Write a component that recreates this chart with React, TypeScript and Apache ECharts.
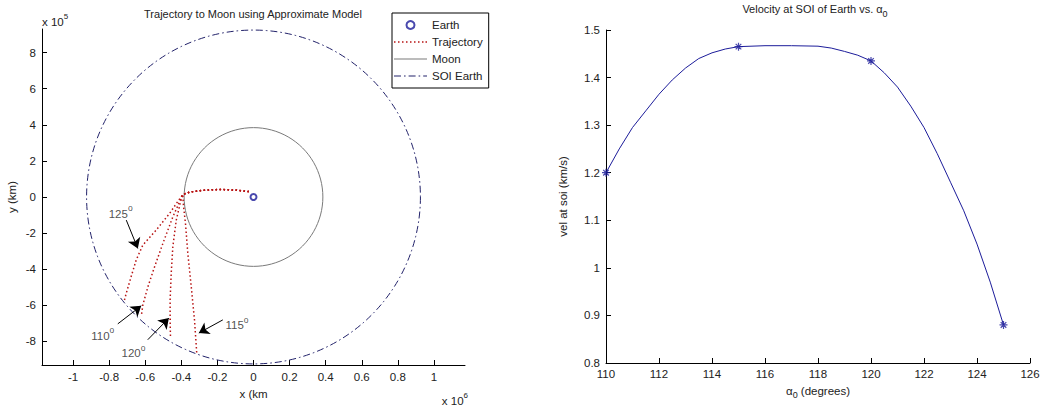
import React, { useEffect, useRef } from 'react';
import * as echarts from 'echarts';

const FONT = '"Liberation Sans", Arial, Helvetica, sans-serif';
const TXT = '#222222';

// ---------- Left chart data ----------
const xTicksLeft = [-1e6, -8e5, -6e5, -4e5, -2e5, 0, 2e5, 4e5, 6e5, 8e5, 1e6];
const yTicksLeft = [-8e5, -6e5, -4e5, -2e5, 0, 2e5, 4e5, 6e5, 8e5];
const earthPos = [[0, 0]];
const moonRadius = [[384400, 0]];
const soiRadius = [[925000, 0]];
const trajStart = [
  [-25000, 30000], [-96000, 38000], [-188000, 42000], [-281000, 37000], [-355000, 27000], [-392000, 14000],
];
const traj125 = [
  [-430000, -40000], [-465000, -91000], [-539000, -183000], [-613000, -266000], [-650000, -349000],
  [-678000, -441000], [-705000, -533000], [-715000, -571000],
];
const traj110 = [
  [-420000, -50000], [-447000, -110000], [-502000, -257000], [-548000, -386000], [-585000, -497000],
  [-613000, -598000], [-622000, -662000],
];
const traj120 = [
  [-405000, -30000], [-428000, -128000], [-447000, -276000], [-456000, -423000], [-462000, -570000],
  [-462000, -681000], [-460000, -782000],
];
const traj115 = [
  [-388000, -50000], [-377000, -146000], [-364000, -312000], [-345000, -497000], [-327000, -681000],
  [-317000, -828000], [-314000, -874000],
];
const angleLabels = ['125', '110', '120', '115'];
const angleLabelPos = [[-736000, -82000], [-835000, -758000], [-665000, -856000], [-91000, -699000]];
const arrowFrom = [[-705000, -128000], [-752000, -703000], [-586000, -791000], [-170000, -681000]];
const arrowTo = [[-641000, -285000], [-622000, -603000], [-469000, -671000], [-303000, -754000]];

// ---------- Right chart data ----------
const alpha = [110, 110.5, 111, 111.5, 112, 112.5, 113, 113.5, 114, 114.5, 115, 116, 117, 118, 118.5, 119, 119.5, 120, 120.5, 121, 121.5, 122, 122.5, 123, 123.5, 124, 124.5, 125];
const vel = [1.2, 1.25, 1.295, 1.33, 1.365, 1.395, 1.42, 1.44, 1.452, 1.46, 1.465, 1.467, 1.467, 1.466, 1.462, 1.455, 1.447, 1.435, 1.41, 1.38, 1.34, 1.295, 1.24, 1.18, 1.12, 1.05, 0.97, 0.88];
const markAlpha = [110, 115, 120, 125];
const markVel = [1.2, 1.465, 1.435, 0.88];
const xTicksRight = [110, 112, 114, 116, 118, 120, 122, 124, 126];
const yTicksRight = [0.8, 0.9, 1.0, 1.1, 1.2, 1.3, 1.4, 1.5];

const solidIcon = 'path://M0,0h33v1h-33z';
const dottedIcon = 'path://M0,0h1.5v1.5h-1.5zM4,0h1.5v1.5h-1.5zM8,0h1.5v1.5h-1.5zM12,0h1.5v1.5h-1.5zM16,0h1.5v1.5h-1.5zM20,0h1.5v1.5h-1.5zM24,0h1.5v1.5h-1.5zM28,0h1.5v1.5h-1.5zM31.5,0h1.5v1.5h-1.5z';
const dashDotIcon = 'path://M0,0h7v1.2h-7zM10,0h1.6v1.2h-1.6zM14.6,0h7v1.2h-7zM24.6,0h1.6v1.2h-1.6zM29.2,0h3.8v1.2h-3.8z';
const asterisk = 'path://M5,0L5,10M0,5L10,5M1.5,1.5L8.5,8.5M1.5,8.5L8.5,1.5';

const NAVY = '#1c1c9a';
const TRAJ = '#b81414';

const tickLabelStyle = { color: TXT, fontSize: 11.5, fontFamily: FONT };

function axisBase() {
  return {
    type: 'value' as const,
    axisLine: { show: true, onZero: false, lineStyle: { color: '#000', width: 1 } },
    axisTick: { show: true, inside: true, length: 5, lineStyle: { color: '#000' } },
    splitLine: { show: false },
  };
}

export default function App() {
  const ref = useRef<HTMLDivElement>(null);
  useEffect(() => {
    if (!ref.current) return;
    const chart = echarts.init(ref.current, undefined, { renderer: 'svg' });
    const trajSeries = [traj125, traj110, traj120, traj115].map((b) => ({
      type: 'line',
      name: 'Trajectory',
      xAxisIndex: 0,
      yAxisIndex: 0,
      data: trajStart.concat(b),
      symbol: 'none',
      smooth: false,
      lineStyle: { color: TRAJ, width: 1.5, type: [1.5, 2.5] },
      itemStyle: { color: TRAJ },
      silent: true,
      z: 3,
    }));
    const circleSeries = (name: string, data: number[][], color: string, dash: number[] | null) => ({
      type: 'custom',
      name,
      xAxisIndex: 0,
      yAxisIndex: 0,
      data,
      itemStyle: { color },
      silent: true,
      renderItem: (_p: any, api: any) => {
        const c = api.coord(earthPos[0]);
        const r = api.size([api.value(0), 0])[0];
        return {
          type: 'circle',
          shape: { cx: c[0], cy: c[1], r },
          style: { fill: 'none', stroke: color, lineWidth: 1, lineDash: dash || undefined },
        };
      },
    });
    const option: any = {
      animation: false,
      backgroundColor: '#fff',
      title: [
        {
          text: 'Trajectory to Moon using Approximate Model',
          left: 253,
          top: 8,
          textAlign: 'center',
          padding: 0,
          textStyle: { fontSize: 11, fontWeight: 'normal', color: TXT, fontFamily: FONT },
        },
        {
          text: '{n|Velocity at SOI of Earth vs. α}{sub|0}',
          left: 815,
          top: 0,
          textAlign: 'center',
          padding: 0,
          textStyle: {
            fontSize: 11,
            fontWeight: 'normal',
            color: TXT,
            fontFamily: FONT,
            rich: {
              n: { fontSize: 11, lineHeight: 18, verticalAlign: 'middle', color: TXT, fontFamily: FONT },
              sub: { fontSize: 9, lineHeight: 9, verticalAlign: 'bottom', color: TXT, fontFamily: FONT },
            },
          },
        },
      ],
      legend: {
        orient: 'vertical',
        left: 392,
        top: 13,
        itemWidth: 33,
        itemHeight: 8,
        itemGap: 3,
        itemTextGap: 2,
        padding: [5, 6, 5, 2],
        borderColor: '#000',
        borderWidth: 1,
        borderRadius: 0,
        backgroundColor: '#fff',
        selectedMode: false,
        textStyle: { fontSize: 11.5, fontFamily: FONT, color: TXT, lineHeight: 14 },
        data: [
          { name: 'Earth' },
          { name: 'Trajectory', icon: dottedIcon },
          { name: 'Moon', icon: solidIcon },
          { name: 'SOI Earth', icon: dashDotIcon },
        ],
      },
      grid: [
        { left: 42, top: 29, width: 423, height: 336 },
        { left: 606, top: 30, width: 424, height: 333 },
      ],
      xAxis: [
        {
          ...axisBase(),
          gridIndex: 0,
          min: -1172000,
          max: 1172000,
          axisTick: { show: true, inside: true, length: 5, lineStyle: { color: '#000' }, customValues: xTicksLeft },
          axisLabel: {
            ...tickLabelStyle,
            margin: 6,
            customValues: xTicksLeft,
            formatter: (v: number) => String(Math.round(v / 1e5) / 10),
          },
          name: 'x (km',
          nameLocation: 'middle',
          nameGap: 17,
          nameTextStyle: { ...tickLabelStyle },
        },
        {
          ...axisBase(),
          gridIndex: 1,
          min: 110,
          max: 126,
          axisTick: { show: true, inside: true, length: 5, lineStyle: { color: '#000' }, customValues: xTicksRight },
          axisLabel: { ...tickLabelStyle, margin: 5, customValues: xTicksRight, formatter: (v: number) => String(v) },
          name: '{n|α}{sub|0}{n| (degrees)}',
          nameLocation: 'middle',
          nameGap: 16,
          nameTextStyle: {
            ...tickLabelStyle,
            rich: {
              n: { fontSize: 11.5, lineHeight: 18, verticalAlign: 'middle', color: TXT, fontFamily: FONT },
              sub: { fontSize: 9, lineHeight: 9, verticalAlign: 'bottom', color: TXT, fontFamily: FONT },
            },
          },
        },
      ],
      yAxis: [
        {
          ...axisBase(),
          gridIndex: 0,
          min: -931000,
          max: 931000,
          axisTick: { show: true, inside: true, length: 5, lineStyle: { color: '#000' }, customValues: yTicksLeft },
          axisLabel: {
            ...tickLabelStyle,
            margin: 6,
            customValues: yTicksLeft,
            formatter: (v: number) => String(Math.round(v / 1e5)),
          },
          name: 'y (km)',
          nameLocation: 'middle',
          nameGap: 24,
          nameTextStyle: { ...tickLabelStyle },
        },
        {
          ...axisBase(),
          gridIndex: 1,
          min: 0.8,
          max: 1.5,
          axisTick: { show: true, inside: true, length: 5, lineStyle: { color: '#000' }, customValues: yTicksRight },
          axisLabel: {
            ...tickLabelStyle,
            margin: 6,
            customValues: yTicksRight,
            formatter: (v: number) => String(Number(v.toFixed(1))),
          },
          name: 'vel at soi (km/s)',
          nameLocation: 'middle',
          nameGap: 37,
          nameTextStyle: { ...tickLabelStyle },
        },
      ],
      graphic: [
        {
          type: 'text',
          left: 42,
          top: 12,
          style: {
            text: '{n|x 10}{sup|5}',
            rich: {
              n: { fontSize: 11.5, lineHeight: 16, verticalAlign: 'bottom', fill: TXT, fontFamily: FONT },
              sup: { fontSize: 8, lineHeight: 16, verticalAlign: 'top', fill: TXT, fontFamily: FONT },
            },
          },
        },
        {
          type: 'text',
          right: 1043 - 468,
          top: 391,
          style: {
            text: '{n|x 10}{sup|6}',
            rich: {
              n: { fontSize: 11.5, lineHeight: 16, verticalAlign: 'bottom', fill: TXT, fontFamily: FONT },
              sup: { fontSize: 8, lineHeight: 16, verticalAlign: 'top', fill: TXT, fontFamily: FONT },
            },
          },
        },
      ],
      series: [
        {
          type: 'scatter',
          name: 'Earth',
          xAxisIndex: 0,
          yAxisIndex: 0,
          data: earthPos,
          symbol: 'emptyCircle',
          symbolSize: 6,
          itemStyle: { color: NAVY, borderColor: NAVY, borderWidth: 2 },
          silent: true,
          z: 5,
        },
        ...trajSeries,
        circleSeries('Moon', moonRadius, '#7a7a7a', null),
        circleSeries('SOI Earth', soiRadius, '#22226a', [7, 3, 1.6, 3]),
        {
          type: 'lines',
          name: 'arrows',
          coordinateSystem: 'cartesian2d',
          xAxisIndex: 0,
          yAxisIndex: 0,
          symbol: ['none', 'arrow'],
          symbolSize: [7, 10],
          silent: true,
          lineStyle: { color: '#000', width: 1, opacity: 1, curveness: 0 },
          data: arrowFrom.map((f, i) => ({ coords: [f, arrowTo[i]] })),
          z: 6,
        },
        {
          type: 'scatter',
          name: 'angles',
          xAxisIndex: 0,
          yAxisIndex: 0,
          symbolSize: 0,
          silent: true,
          data: angleLabelPos.map((p, i) => ({ value: p, name: angleLabels[i] })),
          label: {
            show: true,
            position: 'inside',
            formatter: (p: any) => `{n|${p.name}}{sup|o}`,
            rich: {
              n: { fontSize: 11.5, lineHeight: 16, verticalAlign: 'bottom', color: TXT, fontFamily: FONT },
              sup: { fontSize: 8.5, lineHeight: 16, verticalAlign: 'top', color: TXT, fontFamily: FONT },
            },
          },
          z: 6,
        },
        {
          type: 'line',
          name: 'velocity',
          xAxisIndex: 1,
          yAxisIndex: 1,
          data: alpha.map((a, i) => [a, vel[i]]),
          symbol: 'none',
          lineStyle: { color: NAVY, width: 1 },
          silent: true,
        },
        {
          type: 'scatter',
          name: 'velocity points',
          xAxisIndex: 1,
          yAxisIndex: 1,
          data: markAlpha.map((a, i) => [a, markVel[i]]),
          symbol: asterisk,
          symbolSize: 8,
          itemStyle: { color: NAVY, borderColor: NAVY, borderWidth: 1.2 },
          silent: true,
          z: 4,
        },
      ],
    };
    chart.setOption(option);
    return () => chart.dispose();
  }, []);
  return (
    <div
      ref={ref}
      style={{ position: 'fixed', left: 0, top: 0, width: 1043, height: 414, background: '#fff' }}
    />
  );
}
